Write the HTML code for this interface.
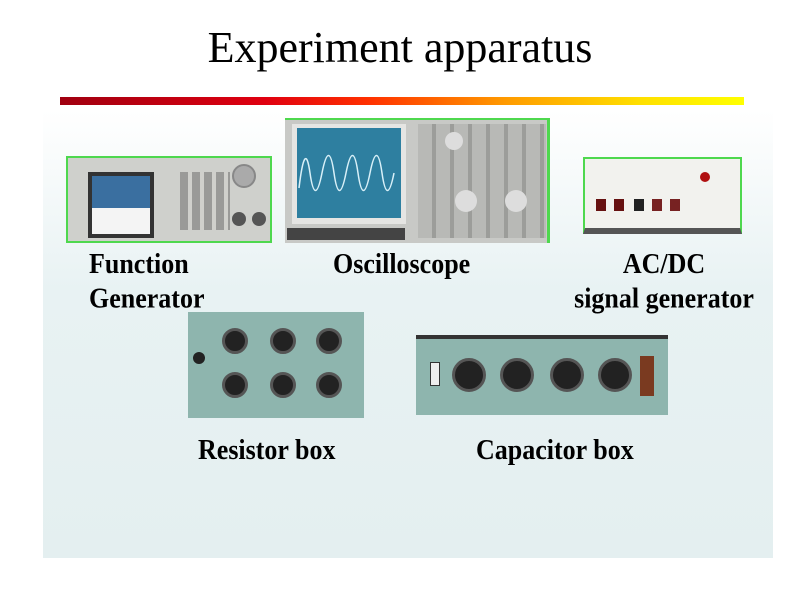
<!DOCTYPE html>
<html><head><meta charset="utf-8"><style>
*{margin:0;padding:0;box-sizing:border-box}
body{width:800px;height:600px;position:relative;background:#fff;overflow:hidden;font-family:"Liberation Serif",serif}
.a{position:absolute}
.lbl{position:absolute;font-weight:bold;font-size:26px;color:#000;line-height:32px;transform:scaleY(1.08);transform-origin:top left}
.knob{position:absolute;width:26px;height:26px;border-radius:50%;background:#222;border:3px solid #555}
</style></head><body>
<div class="a" style="left:0;top:20px;width:800px;text-align:center;font-size:44px;line-height:56px">Experiment apparatus</div>
<div class="a" style="left:60px;top:97px;width:684px;height:8px;background:linear-gradient(90deg,#a00010,#e00010 30%,#ff3000 45%,#ff9a00 65%,#ffe000 85%,#ffff00)"></div>
<div class="a" style="left:43px;top:110px;width:730px;height:448px;background:linear-gradient(180deg,#ffffff,#e8f2f3 40%,#e4eff0)"></div>

<!-- function generator -->
<div class="a" style="left:66px;top:156px;width:206px;height:87px;background:#cfd0cc;border:2px solid #4ed84e"></div>
<div class="a" style="left:88px;top:172px;width:66px;height:66px;background:#333"></div>
<div class="a" style="left:92px;top:176px;width:58px;height:32px;background:#3a6fa0"></div>
<div class="a" style="left:92px;top:208px;width:58px;height:26px;background:#f4f4f4"></div>
<div class="a" style="left:180px;top:172px;width:50px;height:58px;background:repeating-linear-gradient(90deg,#9a9a98 0 8px,#d0d0cc 8px 12px)"></div>
<div class="a" style="left:232px;top:164px;width:24px;height:24px;border-radius:50%;background:#aaa;border:2px solid #888"></div>
<div class="a" style="left:232px;top:212px;width:14px;height:14px;border-radius:50%;background:#555"></div>
<div class="a" style="left:252px;top:212px;width:14px;height:14px;border-radius:50%;background:#555"></div>

<!-- oscilloscope -->
<div class="a" style="left:285px;top:118px;width:265px;height:125px;background:#c8c9c6;border-right:3px solid #4ed84e;border-top:2px solid #4ed84e"></div>
<div class="a" style="left:292px;top:124px;width:114px;height:100px;background:#e5e5e3"></div>
<div class="a" style="left:297px;top:128px;width:104px;height:90px;background:#2e7fa0"></div>
<svg class="a" style="left:297px;top:128px" width="104" height="90"><path d="M2 60 Q8 10 13 45 T25 45 T37 45 T49 45 T61 45 T73 45 T85 45 T97 45" fill="none" stroke="#d8f0f8" stroke-width="1.5"/></svg>
<div class="a" style="left:287px;top:228px;width:118px;height:12px;background:#444"></div>
<div class="a" style="left:418px;top:124px;width:128px;height:114px;background:repeating-linear-gradient(90deg,#b8b9b6 0 14px,#9c9d9a 14px 18px)"></div>
<div class="a" style="left:455px;top:190px;width:22px;height:22px;border-radius:50%;background:#ddd"></div>
<div class="a" style="left:505px;top:190px;width:22px;height:22px;border-radius:50%;background:#ddd"></div>
<div class="a" style="left:445px;top:132px;width:18px;height:18px;border-radius:50%;background:#ddd"></div>

<!-- AC/DC -->
<div class="a" style="left:583px;top:157px;width:159px;height:77px;background:#f2f2ee;border:2px solid #4ed84e;border-bottom:6px solid #555"></div>
<div class="a" style="left:700px;top:172px;width:10px;height:10px;border-radius:50%;background:#b01010"></div>
<div class="a" style="left:596px;top:199px;width:10px;height:12px;background:#611"></div>
<div class="a" style="left:614px;top:199px;width:10px;height:12px;background:#611"></div>
<div class="a" style="left:634px;top:199px;width:10px;height:12px;background:#222"></div>
<div class="a" style="left:652px;top:199px;width:10px;height:12px;background:#722"></div>
<div class="a" style="left:670px;top:199px;width:10px;height:12px;background:#722"></div>

<div class="lbl" style="left:89px;top:247px">Function<br>Generator</div>
<div class="lbl" style="left:333px;top:247px">Oscilloscope</div>
<div class="lbl" style="left:566px;top:247px;width:196px;text-align:center">AC/DC<br>signal generator</div>

<!-- resistor box -->
<div class="a" style="left:188px;top:312px;width:176px;height:106px;background:#8eb5ae"></div>
<div class="knob" style="left:222px;top:328px"></div>
<div class="knob" style="left:270px;top:328px"></div>
<div class="knob" style="left:316px;top:328px"></div>
<div class="knob" style="left:222px;top:372px"></div>
<div class="knob" style="left:270px;top:372px"></div>
<div class="knob" style="left:316px;top:372px"></div>
<div class="a" style="left:193px;top:352px;width:12px;height:12px;border-radius:50%;background:#222"></div>

<!-- capacitor box -->
<div class="a" style="left:416px;top:335px;width:252px;height:80px;background:#8eb5ae;border-top:4px solid #333"></div>
<div class="knob" style="left:452px;top:358px;width:34px;height:34px"></div>
<div class="knob" style="left:500px;top:358px;width:34px;height:34px"></div>
<div class="knob" style="left:550px;top:358px;width:34px;height:34px"></div>
<div class="knob" style="left:598px;top:358px;width:34px;height:34px"></div>
<div class="a" style="left:640px;top:356px;width:14px;height:40px;background:#7a3a20"></div>
<div class="a" style="left:430px;top:362px;width:10px;height:24px;background:#eee;border:1px solid #333"></div>

<div class="lbl" style="left:198px;top:433px">Resistor box</div>
<div class="lbl" style="left:476px;top:433px">Capacitor box</div>
</body></html>
